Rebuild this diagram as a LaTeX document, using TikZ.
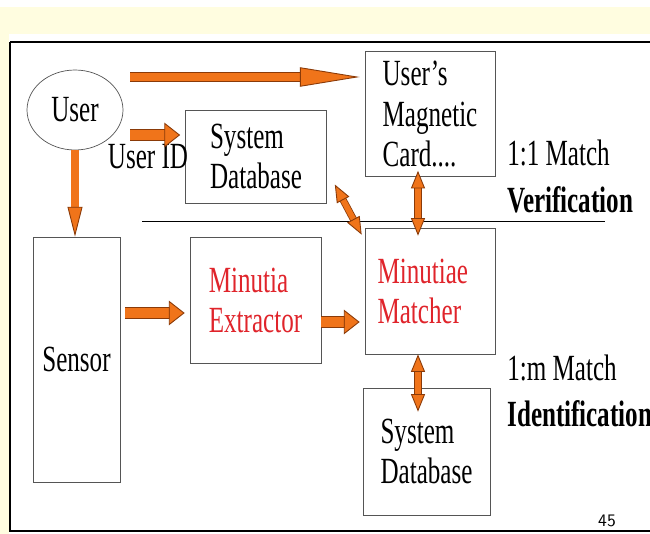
\documentclass[tikz,border=0pt]{standalone}
\usepackage{fontspec}
\setmainfont{Liberation Serif}[FakeStretch=0.68]
\usepackage{tikz}
\usetikzlibrary{
arrows.meta,
shapes,
positioning,
calc
}
\definecolor{slideyellow}{HTML}{FFFDE0}
\definecolor{arroworange}{HTML}{F0741A}
\definecolor{arrowedge}{HTML}{8A3A08}
\definecolor{boxgray}{HTML}{555555}
\definecolor{minred}{HTML}{E0242B}

\begin{document}
\begin{tikzpicture}[x=0.02cm,y=-0.02cm,
    box/.style={draw=boxgray, thin, align=left, inner sep=0pt,
      font=\fontsize{21}{22.8}\selectfont},
    txt/.style={align=left, inner sep=0pt, font=\fontsize{21}{22.8}\selectfont},
    fat/.style={draw=arroworange, line width=5.5pt,
      preaction={draw=arrowedge, line width=6.4pt, -, shorten >=8.5pt},
      -{Triangle[length=9pt,width=14pt,fill=arroworange,color=arrowedge,line width=0.5pt]}},
    bigfat/.style={draw=arroworange, line width=5pt,
      preaction={draw=arrowedge, line width=5.9pt, -, shorten >=33pt},
      -{Triangle[length=34pt,width=11pt,fill=arroworange,color=arrowedge,line width=0.5pt]}},
    downfat/.style={draw=arroworange, line width=4pt,
      preaction={draw=arrowedge, line width=4.9pt, -, shorten >=16pt},
      -{Triangle[length=17pt,width=8.5pt,fill=arroworange,color=arrowedge,line width=0.5pt]}},
    twin/.style={draw=arroworange, line width=3.2pt,
      preaction={draw=arrowedge, line width=4.1pt, -, shorten >=9pt, shorten <=9pt},
      {Triangle[length=10pt,width=8pt,fill=arroworange,color=arrowedge,line width=0.5pt]}-{Triangle[length=10pt,width=8pt,fill=arroworange,color=arrowedge,line width=0.5pt]}}]
    \useasboundingbox (0,0) rectangle (650,534);
    % slide background and frame
    \fill[white] (0,0) rectangle (650,534);
    \fill[slideyellow] (0,7) rectangle (650,34);
    \fill[slideyellow] (0,34) rectangle (9,534);
    \draw[line width=0.9pt] (10,42) -- (650,42);
    \draw[line width=0.7pt] (10,42) -- (10,531) -- (650,531);

    \node[ellipse, draw=boxgray, thin, minimum width=1.92cm, minimum height=1.6cm,
      inner sep=0pt, font=\fontsize{21}{22.8}\selectfont] (U) at (75,110) {User};
    \node[box, minimum width=2.6cm, minimum height=2.5cm] (C) at (430,114) {User's\\Magnetic\\Card....};
    \node[box, minimum width=2.82cm, minimum height=1.86cm] (SD) at (256,156.5) {System\\Database};
    \node[box, minimum width=1.74cm, minimum height=4.9cm] (S) at (76.5,359.5) {Sensor};
    \node[box, minimum width=2.62cm, minimum height=2.52cm, text=minred] (E) at (255.5,300) {Minutia\\Extractor};
    \node[box, minimum width=2.6cm, minimum height=2.52cm, text width=2.1cm, text=minred] (M) at (430,291) {Minutiae\\Matcher};
    \node[box, minimum width=2.54cm, minimum height=2.54cm] (D) at (426.5,451.5) {System\\Database};

    \node[txt] (uid) at (148,157) {User ID};
    \node[txt, anchor=west] (one) at (507,153) {1:1 Match};
    \node[txt, anchor=west, font=\fontsize{21}{22.8}\selectfont\bfseries] (ver) at (507,200) {Verification};
    \node[txt, anchor=west] (many) at (507,368) {1:m Match};
    \node[txt, anchor=west, font=\fontsize{21}{22.8}\selectfont\bfseries] (ident) at (507,414) {Identification};
    \node[font=\sffamily\fontsize{10}{12}\selectfont, inner sep=0pt] (pg) at (607,521) {45};

    \draw[thin] (142,221) -- (605,221);

    \draw[bigfat] ($(U.east)+(7,-33)$) -- ($(C.west)+(-5,-37)$);
    \draw[fat] ($(U.east)+(7,25)$) -- ($(SD.west)+(-5,-21.5)$);
    \draw[downfat] (U.south) -- (U.south |- S.north);
    \draw[fat] ($(S.east)+(5,-46.5)$) -- ($(E.west)+(-5,13)$);
    \draw[fat] ($(E.east)+(0,22)$) -- ($(M.west)+(-5,31)$);
    \draw[twin] ($(C.south)+(-12,-6)$) -- ($(M.north)+(-12,8)$);
    \draw[twin] ($(SD.east)+(8,28)$) -- ($(M.north west)+(-3,7)$);
    \draw[twin] ($(M.south)+(-12,0)$) -- ($(D.north)+(-8.5,24)$);
\end{tikzpicture}
\end{document}
